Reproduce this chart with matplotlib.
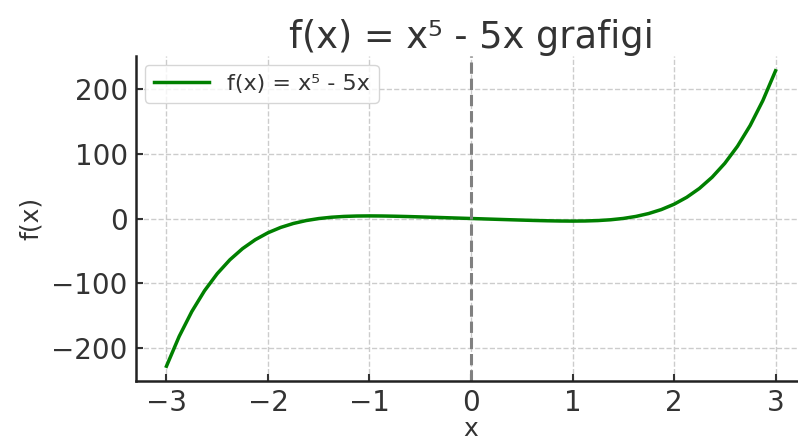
import matplotlib
matplotlib.use("Agg")
import matplotlib.pyplot as plt

# values
x_vals = [-3.0, -2.875, -2.75, -2.625, -2.5, -2.375, -2.25, -2.125, -2.0,
          -1.875, -1.75, -1.625, -1.5, -1.375, -1.25, -1.125, -1.0,
          -0.875, -0.75, -0.625, -0.5, -0.375, -0.25, -0.125, 0.0,
          0.125, 0.25, 0.375, 0.5, 0.625, 0.75, 0.875, 1.0,
          1.125, 1.25, 1.375, 1.5, 1.625, 1.75, 1.875, 2.0,
          2.125, 2.25, 2.375, 2.5, 2.625, 2.75, 2.875, 3.0]
y_vals = [-228.0, -182.05, -143.53, -111.5, -85.16, -63.69, -46.42, -32.71, -22.0,
          -13.8, -7.66, -3.21, -0.09, 1.96, 3.2, 3.82, 4.0,
          3.86, 3.51, 3.03, 2.47, 1.87, 1.25, 0.625, 0.0,
          -0.625, -1.25, -1.87, -2.47, -3.03, -3.51, -3.86, -4.0,
          -3.82, -3.2, -1.96, 0.09, 3.21, 7.66, 13.8, 22.0,
          32.71, 46.42, 63.69, 85.16, 111.5, 143.53, 182.05, 228.0]

label = "f(x) = x\u2075 - 5x"
title = "f(x) = x\u2075 - 5x grafigi"
text_color = "#333333"

fig = plt.figure(figsize=(7.98, 4.43), dpi=100)
ax = fig.add_axes([136 / 798, 62 / 443, 670 / 798, 325 / 443])

ax.plot(x_vals, y_vals, color="green", linewidth=2.5, label=label)
ax.axvline(0, color="gray", linestyle="--", linewidth=2.2)

ax.set_title(title, fontsize=26.5, color=text_color, pad=6)
ax.set_xlabel("x", fontsize=18, color=text_color, labelpad=0)
ax.set_ylabel("f(x)", fontsize=18, color=text_color, labelpad=6)
ax.set_yticks([-200, -100, 0, 100, 200])
ax.tick_params(direction="in", labelsize=20, length=5, width=1.5,
               labelcolor=text_color, color=text_color, pad=6)
ax.grid(True, linestyle="--", color="#cccccc", linewidth=1)
for side in ("top", "right"):
    ax.spines[side].set_visible(False)
for side in ("left", "bottom"):
    ax.spines[side].set_linewidth(1.8)
    ax.spines[side].set_color("#222222")

leg = ax.legend(loc="upper left", fontsize=16, frameon=True,
                borderaxespad=0.4, handlelength=2.5)
for t in leg.get_texts():
    t.set_color(text_color)

fig.savefig("out.png", dpi=100)
